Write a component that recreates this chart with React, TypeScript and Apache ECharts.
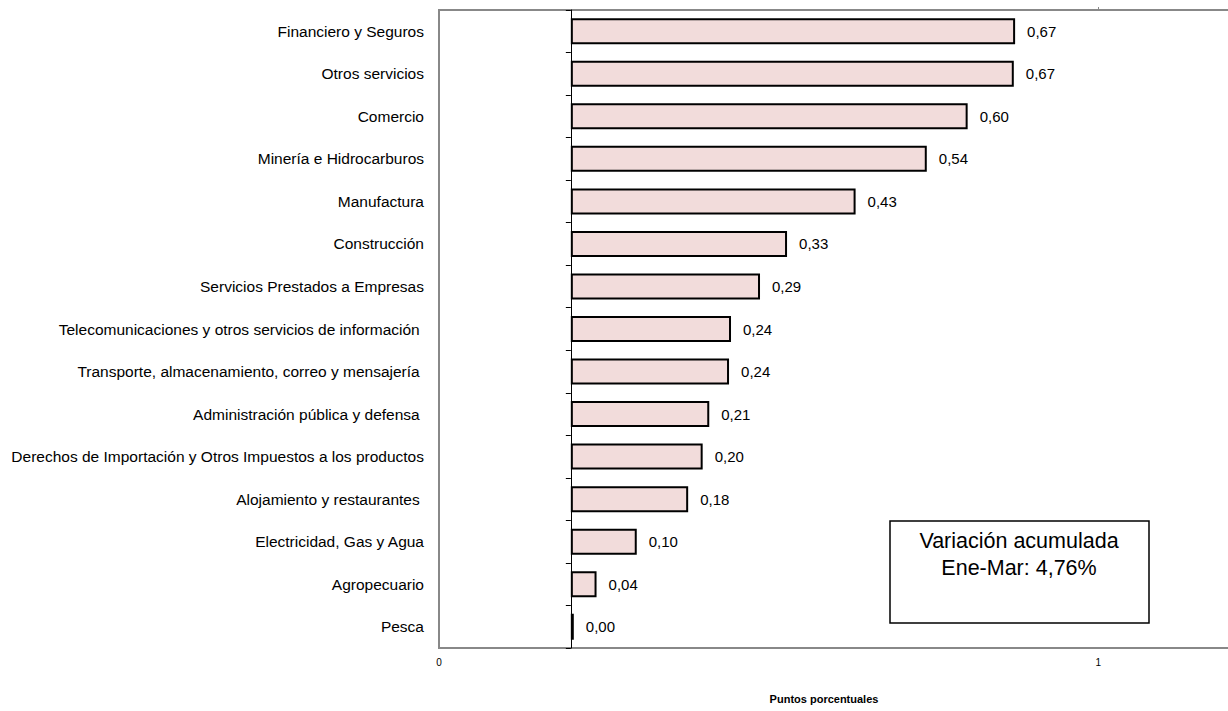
import { useEffect, useRef } from "react";
import * as echarts from "echarts";

const sectores = [
  "Financiero y Seguros",
  "Otros servicios",
  "Comercio",
  "Minería e Hidrocarburos",
  "Manufactura",
  "Construcción",
  "Servicios Prestados a Empresas",
  "Telecomunicaciones y otros servicios de información ",
  "Transporte, almacenamiento, correo y mensajería ",
  "Administración pública y defensa ",
  "Derechos de Importación y Otros Impuestos a los productos",
  "Alojamiento y restaurantes ",
  "Electricidad, Gas y Agua",
  "Agropecuario",
  "Pesca",
];

const contribucion = [
  0.674, 0.672, 0.602, 0.54, 0.432, 0.328, 0.287, 0.243, 0.24, 0.21, 0.2, 0.178,
  0.1, 0.039, 0.0045,
];

const tickPos = [-0.2, 0.8];
const tickText = ["0", "1"];

const FONT = "'Liberation Sans Narrow', 'Arial Narrow', 'Liberation Sans', Arial, sans-serif";

const App = () => {
  const chartRef = useRef<HTMLDivElement>(null);

  useEffect(() => {
    const chart = echarts.init(chartRef.current!, null, { renderer: "svg" });
    chart.setOption({
      animation: false,
      backgroundColor: "#fff",
      grid: {
        left: 439,
        top: 10,
        right: -2,
        bottom: 63,
        show: true,
        borderColor: "#888",
        borderWidth: 2,
        outerBoundsMode: "none",
      },
      xAxis: [
        {
          type: "value",
          position: "bottom",
          min: -0.2,
          max: 1,
          axisLine: { show: false },
          splitLine: { show: false },
          axisTick: { show: false },
          axisLabel: {
            customValues: tickPos,
            formatter: (v: number) => tickText[tickPos.findIndex((p) => Math.abs(p - v) < 1e-6)] ?? "",
            fontSize: 10,
            color: "#000",
            fontFamily: "'Liberation Sans', Arial, sans-serif",
            margin: 9,
          },
        },
        {
          type: "value",
          position: "top",
          min: -0.2,
          max: 1,
          axisLine: { show: false },
          splitLine: { show: false },
          axisLabel: { show: false },
          axisTick: {
            show: true,
            customValues: [0.8],
            length: 3,
            lineStyle: { color: "#888" },
          },
        },
      ],
      yAxis: {
        type: "category",
        data: sectores,
        inverse: true,
        axisLine: { show: true, onZero: true, lineStyle: { color: "#000", width: 1 } },
        axisTick: { show: true, length: 5, lineStyle: { color: "#000" } },
        axisLabel: {
          margin: 15,
          fontSize: 15.5,
          color: "#000",
          fontFamily: FONT,
        },
      },
      series: [
        {
          type: "bar",
          data: contribucion,
          barWidth: 26,
          itemStyle: { color: "#f2dcdb", borderColor: "#000", borderWidth: 2 },
          label: {
            show: true,
            position: "right",
            distance: 12,
            formatter: (p: any) => p.value.toFixed(2).replace(".", ","),
            fontSize: 15,
            color: "#000",
            fontFamily: FONT,
          },
        },
      ],
      graphic: [
        {
          type: "rect",
          shape: { x: 890, y: 521, width: 259, height: 102 },
          style: { fill: "#fff", stroke: "#000", lineWidth: 1.5 },
        },
        {
          type: "text",
          x: 1019,
          y: 527,
          style: {
            text: "Variación acumulada\nEne-Mar: 4,76%",
            textAlign: "center",
            fontSize: 21.5,
            lineHeight: 27,
            fill: "#000",
            fontFamily: FONT,
          },
        },
        {
          type: "text",
          x: 824,
          y: 699,
          style: {
            text: "Puntos porcentuales",
            textAlign: "center",
            textVerticalAlign: "middle",
            fontSize: 11,
            fontWeight: "bold",
            fill: "#000",
            fontFamily: FONT,
          },
        },
      ],
    });
    return () => {
      chart.dispose();
    };
  }, []);

  return (
    <div
      ref={chartRef}
      style={{ position: "absolute", left: 0, top: 0, width: 1228, height: 711 }}
    />
  );
};

export default App;
